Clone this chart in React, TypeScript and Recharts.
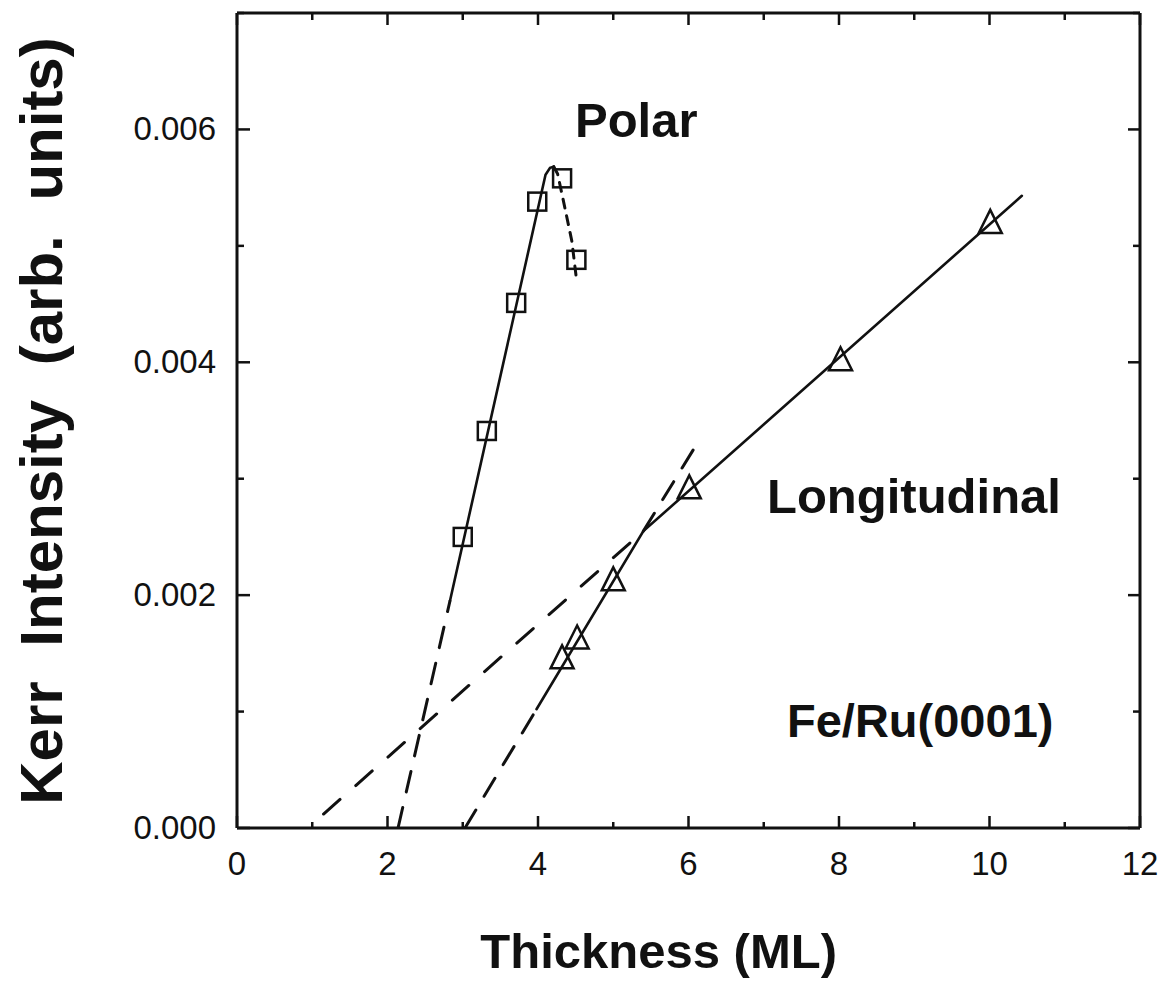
import React from 'react';
import { ComposedChart, Scatter, XAxis, YAxis } from 'recharts';

// measured points (thickness in ML, Kerr intensity)
const polarX = [3.0, 3.32, 3.71, 3.99, 4.32, 4.51];
const polarY = [0.0025, 0.00341, 0.00451, 0.00538, 0.00558, 0.00488];
const longX = [4.32, 4.52, 5.0, 6.01, 8.02, 10.01];
const longY = [0.00147, 0.00164, 0.00214, 0.00293, 0.00403, 0.00521];

// fit lines
const polarSolidX = [2.83, 4.1, 4.16, 4.21];
const polarSolidY = [0.00195, 0.00561, 0.00567, 0.00568];
const polarLowX = [2.14, 2.83];
const polarLowY = [0, 0.00195];
const polarTopX = [4.21, 4.26, 4.33, 4.45, 4.51];
const polarTopY = [0.00568, 0.00562, 0.00541, 0.00504, 0.00472];

const longSolidX = [3.98, 5.4, 10.43];
const longSolidY = [0.00102, 0.00255, 0.00543];
const longLowAX = [3.03, 3.98];
const longLowAY = [0, 0.00102];
const longUpAX = [5.4, 6.16];
const longUpAY = [0.00255, 0.00335];
const longLowBX = [1.15, 5.4];
const longLowBY = [0.00012, 0.00255];

const xTicks = [0, 1, 2, 3, 4, 5, 6, 7, 8, 9, 10, 11, 12];
const yTicks = [0, 0.001, 0.002, 0.003, 0.004, 0.005, 0.006, 0.007];

const zip = (xs: number[], ys: number[]) => xs.map((x, i) => ({ x, y: ys[i] }));

const FONT = '"Liberation Sans", Arial, Helvetica, sans-serif';
const INK = '#111';

const isMajorX = (v: number) => Math.round(v) % 2 === 0;
const isMajorY = (v: number) => Math.round(v * 1000) % 2 === 0;

const BottomTick = (p: any) => {
  const v = p.payload.value;
  const len = isMajorX(v) ? 12 : 6;
  return (
    <g>
      <line x1={p.x} y1={p.y} x2={p.x} y2={p.y - len} stroke={INK} strokeWidth={2.5} />
      {isMajorX(v) && (
        <text x={p.x} y={p.y + 47} textAnchor="middle" fontSize={33} fontFamily={FONT} fill={INK}>
          {v}
        </text>
      )}
    </g>
  );
};

const TopTick = (p: any) => {
  const len = isMajorX(p.payload.value) ? 12 : 7;
  return <line x1={p.x} y1={p.y} x2={p.x} y2={p.y + len} stroke={INK} strokeWidth={2.5} />;
};

const LeftTick = (p: any) => {
  const v = p.payload.value;
  const major = isMajorY(v) && v < 0.007;
  return (
    <g>
      <line x1={p.x} y1={p.y} x2={p.x + (major ? 13 : 7)} y2={p.y} stroke={INK} strokeWidth={2.5} />
      {major && (
        <text x={p.x - 21} y={p.y} dy={11} textAnchor="end" fontSize={33} fontFamily={FONT} fill={INK}>
          {v.toFixed(3)}
        </text>
      )}
    </g>
  );
};

const RightTick = (p: any) => {
  const len = isMajorY(p.payload.value) ? 12 : 7;
  return <line x1={p.x} y1={p.y} x2={p.x - len} y2={p.y} stroke={INK} strokeWidth={2.5} />;
};

const Square = (p: any) => (
  <rect x={p.cx - 9} y={p.cy - 9} width={18} height={18} fill="none" stroke={INK} strokeWidth={2.5} />
);

const Triangle = (p: any) => (
  <polygon
    points={`${p.cx},${p.cy - 11.5} ${p.cx - 11.5},${p.cy + 11.5} ${p.cx + 11.5},${p.cy + 11.5}`}
    fill="none"
    stroke={INK}
    strokeWidth={2.5}
  />
);

const NoDot = () => <g />;

const fitLine = (dash?: string) => ({
  stroke: INK,
  strokeWidth: dash ? 3 : 2.6,
  strokeDasharray: dash,
  strokeLinecap: 'round' as const,
});

export default function App() {
  const axisLine = { stroke: INK, strokeWidth: 3 };
  return (
    <div style={{ position: 'absolute', left: 0, top: 0, width: 1165, height: 984, background: '#fff' }}>
      <ComposedChart width={1165} height={984} margin={{ top: 12, right: 24, left: 0, bottom: 0 }}>
        <XAxis
          xAxisId="b"
          type="number"
          dataKey="x"
          domain={[0, 12]}
          ticks={xTicks}
          interval={0}
          allowDataOverflow
          height={156}
          axisLine={axisLine}
          tickLine={false}
          tickSize={0}
          tickMargin={0}
          tick={BottomTick}
        />
        <XAxis
          xAxisId="t"
          orientation="top"
          type="number"
          dataKey="x"
          domain={[0, 12]}
          ticks={xTicks}
          interval={0}
          allowDataOverflow
          height={1}
          axisLine={axisLine}
          tickLine={false}
          tickSize={0}
          tickMargin={0}
          tick={TopTick}
        />
        <YAxis
          yAxisId="l"
          type="number"
          dataKey="y"
          domain={[0, 0.007]}
          ticks={yTicks}
          interval={0}
          allowDataOverflow
          width={237}
          axisLine={axisLine}
          tickLine={false}
          tickSize={0}
          tickMargin={0}
          tick={LeftTick}
        />
        <YAxis
          yAxisId="r"
          orientation="right"
          type="number"
          dataKey="y"
          domain={[0, 0.007]}
          ticks={yTicks}
          interval={0}
          allowDataOverflow
          width={1}
          axisLine={axisLine}
          tickLine={false}
          tickSize={0}
          tickMargin={0}
          tick={RightTick}
        />

        <Scatter xAxisId="b" yAxisId="l" data={zip(polarLowX, polarLowY)} fill={INK} line={fitLine('21 16')} lineType="joint" shape={NoDot} isAnimationActive={false} />
        <Scatter xAxisId="b" yAxisId="l" data={zip(polarSolidX, polarSolidY)} fill={INK} line={fitLine()} lineType="joint" shape={NoDot} isAnimationActive={false} />
        <Scatter xAxisId="b" yAxisId="l" data={zip(polarTopX, polarTopY)} fill={INK} line={fitLine('9 8')} lineType="joint" shape={NoDot} isAnimationActive={false} />

        <Scatter xAxisId="b" yAxisId="l" data={zip(longLowAX, longLowAY)} fill={INK} line={fitLine('21 16')} lineType="joint" shape={NoDot} isAnimationActive={false} />
        <Scatter xAxisId="b" yAxisId="l" data={zip(longSolidX, longSolidY)} fill={INK} line={fitLine()} lineType="joint" shape={NoDot} isAnimationActive={false} />
        <Scatter xAxisId="b" yAxisId="l" data={zip(longUpAX, longUpAY)} fill={INK} line={fitLine('21 16')} lineType="joint" shape={NoDot} isAnimationActive={false} />
        <Scatter xAxisId="b" yAxisId="l" data={zip(longLowBX, longLowBY)} fill={INK} line={fitLine('22 21')} lineType="joint" shape={NoDot} isAnimationActive={false} />

        <Scatter xAxisId="b" yAxisId="l" data={zip(polarX, polarY)} fill="none" shape={Square} isAnimationActive={false} />
        <Scatter xAxisId="b" yAxisId="l" data={zip(longX, longY)} fill="none" shape={Triangle} isAnimationActive={false} />
      </ComposedChart>

      <svg
        width={1165}
        height={984}
        style={{ position: 'absolute', left: 0, top: 0, pointerEvents: 'none' }}
        fontFamily={FONT}
        fontWeight="bold"
        fill={INK}
      >
        <text x={575} y={137} fontSize={49}>Polar</text>
        <text x={767} y={513} fontSize={49}>Longitudinal</text>
        <text x={787} y={737} fontSize={47}>Fe/Ru(0001)</text>
        <text x={837} y={968} fontSize={49} textAnchor="end">Thickness (ML)</text>
        <text
          x={62}
          y={421}
          fontSize={60}
          textAnchor="middle"
          wordSpacing={18}
          transform="rotate(-90 62 421)"
        >
          Kerr Intensity (arb. units)
        </text>
      </svg>
    </div>
  );
}
